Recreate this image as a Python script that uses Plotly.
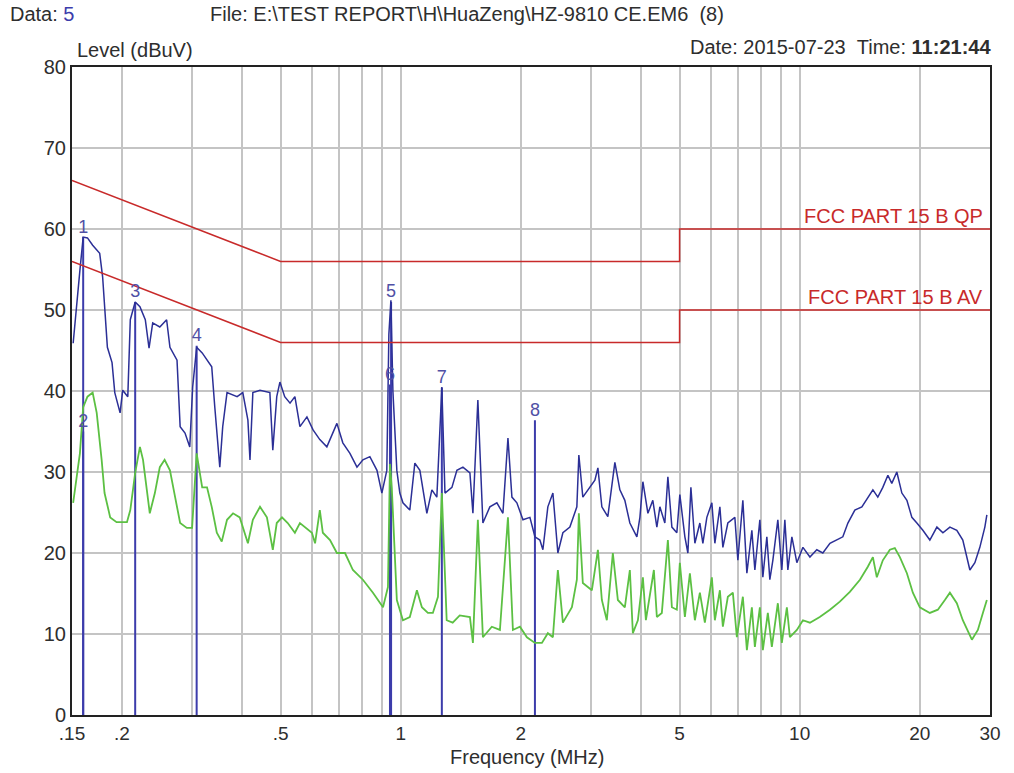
import plotly.graph_objects as go

# Peak (blue) scan, frequency in MHz / level in dBuV
PK_FREQ = [0.151, 0.154, 0.157, 0.160, 0.164, 0.169, 0.176, 0.179, 0.184, 0.189,
           0.192, 0.198, 0.201, 0.207, 0.210, 0.216, 0.222, 0.229, 0.234, 0.239,
           0.249, 0.259, 0.264, 0.275, 0.280, 0.288, 0.296, 0.301, 0.308, 0.318,
           0.327, 0.336, 0.342, 0.352, 0.358, 0.367, 0.389, 0.402, 0.414, 0.419,
           0.426, 0.444, 0.470, 0.478, 0.489, 0.498, 0.512, 0.528, 0.543, 0.559,
           0.582, 0.603, 0.627, 0.653, 0.692, 0.716, 0.746, 0.777, 0.804, 0.837,
           0.872, 0.897, 0.923, 0.934, 0.945, 0.956, 0.978, 0.995, 1.013, 1.054,
           1.085, 1.117, 1.163, 1.197, 1.232, 1.268, 1.291, 1.344, 1.383, 1.432,
           1.491, 1.517, 1.561, 1.607, 1.673, 1.742, 1.804, 1.857, 1.900, 1.955,
           2.025, 2.108, 2.170, 2.233, 2.272, 2.338, 2.407, 2.477, 2.550, 2.655,
           2.764, 2.796, 2.861, 2.980, 3.067, 3.121, 3.193, 3.305, 3.402, 3.442,
           3.543, 3.646, 3.753, 3.908, 3.977, 4.046, 4.165, 4.285, 4.386, 4.463,
           4.593, 4.674, 4.783, 4.922, 5.008, 5.156, 5.246, 5.338, 5.462, 5.622,
           5.720, 5.853, 6.025, 6.130, 6.310, 6.420, 6.607, 6.880, 7.000, 7.205,
           7.374, 7.589, 7.722, 7.948, 8.086, 8.275, 8.419, 8.566, 8.817, 9.023,
           9.181, 9.342, 9.561, 9.840, 10.19, 10.61, 11.04, 11.43, 11.91, 12.40,
           12.83, 13.21, 13.75, 14.32, 14.82, 15.26, 15.70, 16.16, 16.64, 17.02,
           17.52, 18.04, 18.57, 19.11, 19.67, 20.36, 21.20, 22.08, 22.86, 23.80,
           24.77, 25.64, 26.71, 27.49, 28.29, 29.12, 29.46]
PK_LEVEL = [45.9, 50.9, 54.9, 59.0, 58.9, 58.0, 57.0, 54.1, 45.4, 43.5,
            39.8, 37.3, 40.1, 39.3, 48.8, 51.0, 50.4, 48.8, 45.3, 48.4,
            47.9, 48.8, 45.4, 43.8, 35.6, 34.8, 33.1, 40.5, 45.4, 44.7,
            43.8, 43.0, 38.0, 30.6, 35.6, 39.8, 39.3, 39.8, 36.4, 31.5,
            39.8, 40.1, 39.8, 32.7, 39.3, 41.1, 39.3, 38.5, 39.3, 35.6,
            36.8, 35.2, 34.0, 33.1, 36.0, 33.6, 32.3, 30.6, 31.5, 31.9,
            30.2, 27.4, 30.2, 47.0, 51.2, 40.0, 30.2, 27.4, 26.2, 25.3,
            31.1, 30.2, 24.9, 27.8, 26.9, 40.5, 27.4, 28.1, 30.2, 30.6,
            29.9, 24.9, 38.9, 23.7, 25.7, 26.2, 24.9, 34.2, 26.9, 26.2,
            24.1, 24.4, 22.0, 21.6, 20.4, 25.7, 27.4, 20.0, 22.5, 23.2,
            25.7, 32.1, 26.9, 28.1, 29.0, 30.5, 25.7, 24.5, 29.0, 31.2,
            27.8, 26.5, 23.7, 22.0, 24.4, 28.8, 24.9, 26.5, 23.2, 25.7,
            23.7, 29.4, 23.2, 22.5, 27.2, 22.0, 20.0, 28.1, 21.2, 23.7,
            21.2, 24.4, 26.2, 21.2, 25.7, 20.7, 23.7, 24.4, 19.1, 26.5,
            17.5, 22.8, 17.9, 24.1, 17.0, 22.0, 16.7, 19.1, 24.1, 17.9,
            24.1, 17.9, 22.0, 18.8, 20.7, 19.5, 20.4, 20.0, 21.2, 21.6,
            22.0, 23.7, 25.3, 25.7, 26.9, 27.8, 26.9, 28.1, 29.6, 28.6,
            30.0, 27.4, 26.5, 24.4, 23.7, 22.8, 21.6, 23.2, 22.5, 23.2,
            22.8, 21.6, 17.9, 18.8, 20.7, 23.2, 24.7]

# Average (green) scan
AV_FREQ = [0.151, 0.154, 0.157, 0.160, 0.164, 0.169, 0.173, 0.178, 0.181, 0.187,
           0.194, 0.206, 0.210, 0.216, 0.222, 0.226, 0.231, 0.235, 0.242, 0.249,
           0.256, 0.264, 0.272, 0.280, 0.291, 0.300, 0.308, 0.318, 0.327, 0.336,
           0.346, 0.356, 0.367, 0.380, 0.395, 0.414, 0.426, 0.444, 0.462, 0.478,
           0.489, 0.504, 0.521, 0.543, 0.559, 0.575, 0.599, 0.610, 0.627, 0.638,
           0.665, 0.692, 0.725, 0.759, 0.804, 0.852, 0.903, 0.929, 0.940, 0.950,
           0.978, 1.013, 1.054, 1.098, 1.130, 1.170, 1.204, 1.240, 1.268, 1.304,
           1.350, 1.406, 1.491, 1.517, 1.561, 1.607, 1.692, 1.773, 1.857, 1.911,
           1.990, 2.072, 2.170, 2.259, 2.338, 2.407, 2.477, 2.550, 2.686, 2.764,
           2.796, 2.861, 3.014, 3.121, 3.193, 3.286, 3.402, 3.502, 3.646, 3.753,
           3.819, 3.931, 4.046, 4.117, 4.311, 4.386, 4.514, 4.674, 4.783, 4.922,
           5.008, 5.156, 5.307, 5.462, 5.622, 5.786, 6.025, 6.130, 6.310, 6.420,
           6.607, 6.801, 6.960, 7.205, 7.374, 7.589, 7.722, 7.948, 8.086, 8.322,
           8.517, 8.817, 9.023, 9.288, 9.451, 9.840, 10.19, 10.61, 11.23, 11.91,
           12.61, 13.36, 14.16, 14.82, 15.26, 15.61, 16.16, 16.83, 17.32, 17.83,
           18.57, 19.22, 20.01, 21.20, 22.20, 23.12, 23.80, 24.77, 25.64, 27.02,
           27.97, 28.79, 29.46]
AV_LEVEL = [26.2, 29.0, 32.3, 38.0, 39.3, 39.8, 37.3, 31.5, 27.4, 24.4,
            23.8, 23.8, 25.3, 29.9, 33.1, 31.5, 27.4, 24.9, 27.4, 30.6,
            31.5, 30.2, 26.9, 23.7, 23.1, 23.1, 32.3, 28.1, 28.1, 25.7,
            22.5, 21.4, 24.1, 24.9, 24.4, 21.2, 24.1, 25.7, 24.4, 20.4,
            23.7, 24.4, 23.7, 22.5, 23.7, 23.2, 22.5, 21.2, 25.3, 22.5,
            21.6, 20.0, 20.0, 17.9, 16.7, 15.1, 13.3, 15.8, 31.0, 28.0,
            14.2, 11.7, 12.1, 15.4, 13.3, 12.6, 12.6, 14.6, 27.4, 11.7,
            11.4, 12.3, 12.1, 8.9, 24.1, 9.6, 10.9, 10.5, 24.4, 10.5,
            10.9, 9.6, 8.9, 8.9, 10.1, 9.6, 17.9, 11.4, 13.3, 16.7,
            24.9, 16.3, 15.4, 20.4, 14.2, 11.7, 20.0, 14.2, 13.3, 17.9,
            10.1, 11.7, 17.0, 11.7, 17.9, 12.1, 12.6, 21.6, 13.3, 13.0,
            18.8, 12.1, 17.5, 11.7, 15.1, 11.4, 17.0, 11.7, 15.4, 10.9,
            14.6, 15.1, 9.6, 14.6, 8.0, 13.3, 8.4, 13.3, 8.0, 12.6,
            8.4, 13.8, 8.9, 13.3, 9.6, 10.5, 11.7, 11.4, 12.1, 13.0,
            14.0, 15.2, 16.7, 18.3, 19.5, 17.0, 19.1, 20.4, 20.6, 19.5,
            17.5, 15.1, 13.3, 12.6, 13.0, 14.2, 15.1, 13.8, 11.7, 9.3,
            10.5, 12.6, 14.2]

# FCC Part 15 class B limits
QP_FREQ = [0.15, 0.5, 5, 5, 30]
QP_LIMIT = [66, 56, 56, 60, 60]
AV_FREQ_LIM = [0.15, 0.5, 5, 5, 30]
AV_LIMIT = [56, 46, 46, 50, 50]

# Marker readings
MARK_ID = ["1", "2", "3", "4", "5", "6", "7", "8"]
MARK_FREQ = [0.160, 0.160, 0.216, 0.308, 0.946, 0.940, 1.268, 2.170]
MARK_LEVEL = [59.0, 35.0, 51.0, 45.6, 51.0, 40.8, 40.4, 36.4]

X_TICKS = [0.15, 0.2, 0.3, 0.4, 0.5, 0.6, 0.7, 0.8, 0.9, 1, 2, 3, 4, 5, 6, 7, 8, 9, 10, 20, 30]
X_LABELS = [".15", ".2", "", "", ".5", "", "", "", "", "1", "2", "", "", "5", "", "", "", "", "10", "20", "30"]

COLORS = {
    'peak': '#2b2f96',
    'avg': '#5cc043',
    'limit': '#c82a2a',
    'marker': '#3c3cab',
    'marker_text': '#5050a5',
    'grid': '#c4c4c4',
    'text': '#2e2e2e',
}
FONT = "Arial, 'Liberation Sans', sans-serif"

fig = go.Figure()

# marker stems
mx, my = [], []
for f, lv in zip(MARK_FREQ, MARK_LEVEL):
    mx += [f, f, None]
    my += [0, lv, None]
fig.add_trace(go.Scatter(x=mx, y=my, mode='lines',
                         line=dict(color=COLORS['marker'], width=2), hoverinfo='skip'))

fig.add_trace(go.Scatter(x=AV_FREQ, y=AV_LEVEL, mode='lines', name='AV',
                         line=dict(color=COLORS['avg'], width=1.8)))
fig.add_trace(go.Scatter(x=PK_FREQ, y=PK_LEVEL, mode='lines', name='Peak',
                         line=dict(color=COLORS['peak'], width=1.5)))

fig.add_trace(go.Scatter(x=QP_FREQ, y=QP_LIMIT, mode='lines',
                         line=dict(color=COLORS['limit'], width=1.5)))
fig.add_trace(go.Scatter(x=AV_FREQ_LIM, y=AV_LIMIT, mode='lines',
                         line=dict(color=COLORS['limit'], width=1.5)))

fig.add_trace(go.Scatter(x=MARK_FREQ, y=MARK_LEVEL, mode='text', text=MARK_ID,
                         textposition='top center',
                         textfont=dict(family=FONT, size=18, color=COLORS['marker_text'])))

# limit labels
lim_font = dict(family=FONT, size=20, color=COLORS['limit'])
fig.add_annotation(x=0.995, xref='paper', y=QP_LIMIT[-1], yref='y', text="FCC PART 15 B QP",
                   showarrow=False, xanchor='right', yanchor='bottom', font=lim_font)
fig.add_annotation(x=0.995, xref='paper', y=AV_LIMIT[-1], yref='y', text="FCC PART 15 B AV",
                   showarrow=False, xanchor='right', yanchor='bottom', font=lim_font)

# header texts
hdr = dict(family=FONT, size=20, color=COLORS['text'])
fig.add_annotation(x=-0.0697, xref='paper', y=1.0818, yref='paper', showarrow=False,
                   xanchor='left', yanchor='middle', font=hdr,
                   text="Data: <span style='color:#3c3cab'>5</span>")
fig.add_annotation(x=0.148, xref='paper', y=1.0818, yref='paper', showarrow=False,
                   xanchor='left', yanchor='middle', font=hdr,
                   text=r"File: E:\TEST REPORT\H\HuaZeng\HZ-9810 CE.EM6&nbsp;&nbsp;(8)")
fig.add_annotation(x=1.0033, xref='paper', y=1.0309, yref='paper', showarrow=False,
                   xanchor='right', yanchor='middle', font=hdr,
                   text="Date: 2015-07-23&nbsp;&nbsp;Time: <b>11:21:44</b>")
fig.add_annotation(x=0.0033, xref='paper', y=1.0262, yref='paper', showarrow=False,
                   xanchor='left', yanchor='middle', font=hdr, text="Level (dBuV)")
fig.add_annotation(x=0.4956, xref='paper', y=-0.0648, yref='paper', showarrow=False,
                   xanchor='center', yanchor='middle', font=hdr, text="Frequency (MHz)")

fig.update_layout(
    width=1014, height=773,
    margin=dict(l=72, r=24, t=67, b=58),
    showlegend=False,
    plot_bgcolor='white', paper_bgcolor='white',
    font=dict(family=FONT, color=COLORS['text']),
    xaxis=dict(type='log', range=[-0.8239, 1.4771], tickvals=X_TICKS, ticktext=X_LABELS,
               showgrid=True, gridcolor=COLORS['grid'], gridwidth=1.5,
               showline=True, linecolor='#222', linewidth=2, mirror=True,
               ticks='', tickfont=dict(size=19, color=COLORS['text']), zeroline=False),
    yaxis=dict(range=[0, 80], dtick=10, showgrid=True, gridcolor=COLORS['grid'], gridwidth=1.5,
               showline=True, linecolor='#222', linewidth=2, mirror=True,
               ticks='', tickfont=dict(size=20, color=COLORS['text']), zeroline=False),
)

# drop the default 8px body margin so the figure sits at the page origin
fig.write_html("out.html", config={'displayModeBar': False},
               post_script="document.body.style.margin='0';")
